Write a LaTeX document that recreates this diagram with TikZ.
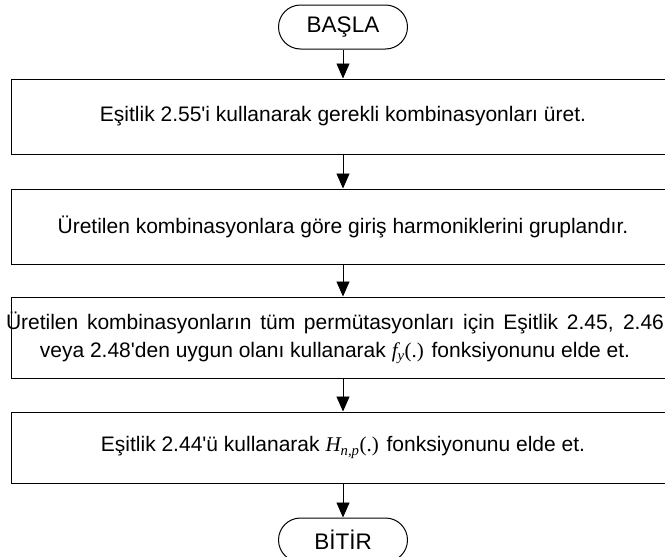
\documentclass[tikz,border=0pt]{standalone}
\usepackage{fontspec}
\setmainfont{Liberation Sans}
\newfontfamily\tmsfont{Liberation Serif}
\usetikzlibrary{arrows.meta}
\newcommand\myfy{{\tmsfont\itshape f\textsubscript{y}}{\tmsfont(.)}}
\newcommand\myH{{\tmsfont\itshape H\textsubscript{n,p}}{\tmsfont(.)}}
\newcommand\ap{\textquotesingle}
\begin{document}
\begin{tikzpicture}[x=1pt,y=1pt,
  font=\fontsize{21}{28}\selectfont,
  procbox/.style={draw, line width=1pt, minimum width=664pt, align=center, inner sep=0pt},
  boxtext/.style={align=center, inner sep=0pt},
  term/.style={draw, line width=1pt, rounded corners=22pt, minimum width=129pt, minimum height=44pt, inner sep=0pt, font=\fontsize{22.5}{27}\selectfont},
  flow/.style={draw, line width=0.9pt, -{Triangle[width=13pt,length=15pt]}}]
\useasboundingbox (0,0) rectangle (665,-557);
\node[term] (start) at (343,-27) {BAŞLA};
\node[procbox, minimum height=75pt] (b1) at (343,-116.5) {Eşitlik 2.55\ap i kullanarak gerekli kombinasyonları üret.};
\node[procbox, minimum height=75pt] (b2) at (343,-226.5) {Üretilen kombinasyonlara göre giriş harmoniklerini gruplandır.};
\node[procbox, minimum height=81pt] (b3) at (343,-337.5) {};
\node[boxtext] (b3t) at (335,-337.5) {\makebox[658pt][s]{Üretilen kombinasyonların tüm permütasyonları için Eşitlik 2.45, 2.46}\\veya 2.48\ap den uygun olanı kullanarak \myfy{} fonksiyonunu elde et.};
\node[procbox, minimum height=71pt] (b4) at (343,-447.5) {Eşitlik 2.44\ap ü kullanarak \myH{} fonksiyonunu elde et.};
\node[term] (stop) at (343,-540) {BİTİR};
\draw[flow] (start) -- (b1);
\draw[flow] (b1) -- (b2);
\draw[flow] (b2) -- (b3);
\draw[flow] (b3) -- (b4);
\draw[flow] (b4) -- (stop);
\end{tikzpicture}
\end{document}
